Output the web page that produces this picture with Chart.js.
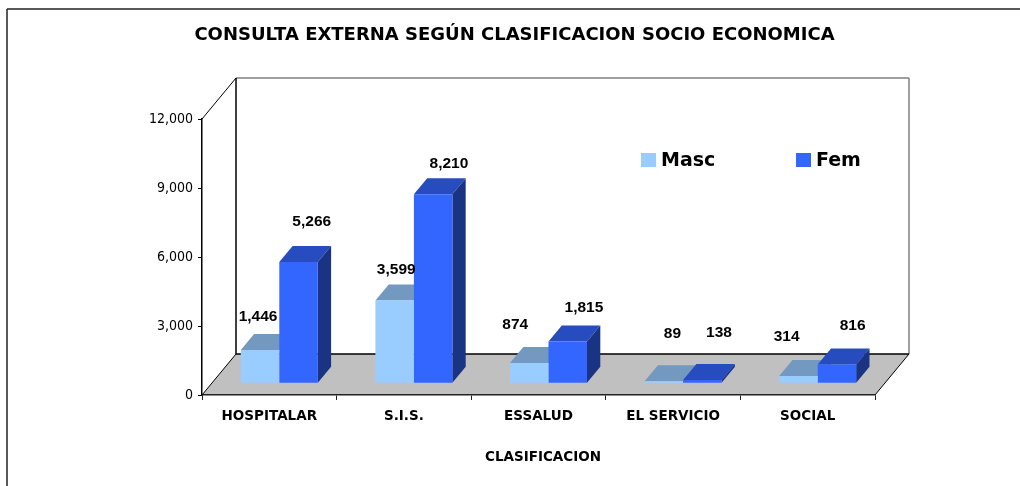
<!DOCTYPE html>
<html>
<head>
<meta charset="utf-8">
<title>Consulta externa</title>
<script src="https://cdn.jsdelivr.net/npm/chart.js@4"></script>
<style>
html, body { margin: 0; padding: 0; background: #fff; }
canvas { display: block; }
</style>
</head>
<body>
<canvas id="chart" width="1020" height="486"></canvas>
<script>
const categories = ['HOSPITALAR', 'S.I.S.', 'ESSALUD', 'EL SERVICIO', 'SOCIAL'];
const masc = [1446, 3599, 874, 89, 314];
const fem = [5266, 8210, 1815, 138, 816];
const seriesNames = ['Masc', 'Fem'];
const yTicks = [0, 3000, 6000, 9000, 12000];

const TEXT_FONT = '"DejaVu Sans", sans-serif';
const TICK_FONT = '"DejaVu Sans Condensed", "DejaVu Sans", sans-serif';
const LABEL_FONT = '"Liberation Sans", Arial, sans-serif';

// 3d look: wall depth, where the bars stand on the floor, bar depth
const wall = { dx: 34, dy: 41 };
const floorShift = { dx: 10, dy: 11.8 };
const barDepth = { dx: 13.3, dy: 16 };
const faces = [
    { top: '#7499C0', side: '#5C7FA6' },
    { top: '#264CBF', side: '#1A3383' }
];
// the value labels were placed by hand in the original
const labelNudge = [
    [[-2, -33.4], [1.6, -30.9], [-14, -38.6], [8.6, -47], [-11.8, -38.8]],
    [[13.2, -40.6], [15.8, -30.6], [16.2, -33.9], [16.6, -47.5], [15.7, -38.9]]
];
const legendSpots = [{ box: 641, text: 661 }, { box: 796, text: 816 }];

function poly(ctx, color, pts) {
    ctx.fillStyle = color;
    ctx.beginPath();
    pts.forEach((p, i) => i ? ctx.lineTo(p[0], p[1]) : ctx.moveTo(p[0], p[1]));
    ctx.closePath();
    ctx.fill();
}

function line(ctx, color, width, x1, y1, x2, y2) {
    ctx.strokeStyle = color;
    ctx.lineWidth = width;
    ctx.beginPath();
    ctx.moveTo(x1, y1);
    ctx.lineTo(x2, y2);
    ctx.stroke();
}

const scene3d = {
    id: 'scene3d',
    beforeDraw(chart) {
        const ctx = chart.ctx;
        const { left, right, top, bottom } = chart.chartArea;
        ctx.save();
        // outer frame, only top and left show
        line(ctx, '#222', 1.5, 7, 9, 1020, 9);
        line(ctx, '#222', 1.5, 7, 9, 7, 486);
        // floor
        poly(ctx, '#C0C0C0', [[left, bottom], [right, bottom], [right + wall.dx, bottom - wall.dy], [left + wall.dx, bottom - wall.dy]]);
        // walls
        line(ctx, '#808080', 1.5, left + wall.dx, top - wall.dy, right + wall.dx, top - wall.dy);
        line(ctx, '#808080', 1.5, right + wall.dx, top - wall.dy, right + wall.dx, bottom - wall.dy);
        line(ctx, '#000', 1.5, left + wall.dx, top - wall.dy, left + wall.dx, bottom - wall.dy);
        line(ctx, '#000', 1, left, top, left + wall.dx, top - wall.dy);
        line(ctx, '#000', 1, left, bottom, left + wall.dx, bottom - wall.dy);
        line(ctx, '#000', 1.5, left + wall.dx, bottom - wall.dy, right + wall.dx, bottom - wall.dy);
        line(ctx, '#000', 1, right, bottom, right + wall.dx, bottom - wall.dy);
        ctx.restore();
    },
    beforeDatasetsDraw(chart) {
        const ctx = chart.ctx;
        ctx.save();
        ctx.translate(floorShift.dx, -floorShift.dy);
        // top and side faces go first, Masc under Fem; the fronts come from the library
        chart.data.datasets.forEach((ds, d) => {
            chart.getDatasetMeta(d).data.forEach(bar => {
                const l = bar.x - bar.width / 2;
                const r = bar.x + bar.width / 2;
                const dx = barDepth.dx;
                const dy = barDepth.dy;
                poly(ctx, faces[d].top, [[l, bar.y], [r, bar.y], [r + dx, bar.y - dy], [l + dx, bar.y - dy]]);
                poly(ctx, faces[d].side, [[r, bar.y], [r, bar.base], [r + dx, bar.base - dy], [r + dx, bar.y - dy]]);
            });
        });
    },
    afterDatasetsDraw(chart) {
        const ctx = chart.ctx;
        ctx.restore();
        ctx.save();
        ctx.textAlign = 'center';
        ctx.textBaseline = 'middle';
        ctx.fillStyle = '#000';
        ctx.font = 'bold 15.5px ' + LABEL_FONT;
        chart.data.datasets.forEach((ds, d) => {
            chart.getDatasetMeta(d).data.forEach((bar, i) => {
                const n = labelNudge[d][i];
                ctx.fillText(ds.data[i].toLocaleString('en-US'), bar.x + floorShift.dx + n[0], bar.y - floorShift.dy + n[1]);
            });
        });
        // axis title sits a little right of the axis centre in the original
        ctx.font = 'bold 13.5px ' + TEXT_FONT;
        ctx.fillText('CLASIFICACION', 543, 457);
        // legend inside the plot
        chart.data.datasets.forEach((ds, d) => {
            ctx.fillStyle = ds.backgroundColor;
            ctx.fillRect(legendSpots[d].box, 153, 15, 14);
            ctx.fillStyle = '#000';
            ctx.textAlign = 'left';
            ctx.font = 'bold 19px ' + TEXT_FONT;
            ctx.fillText(ds.label, legendSpots[d].text, 161);
        });
        ctx.restore();
    }
};

new Chart(document.getElementById('chart').getContext('2d'), {
    type: 'bar',
    data: {
        labels: categories,
        datasets: [
            { label: seriesNames[0], data: masc, backgroundColor: '#99CCFF', clip: false },
            { label: seriesNames[1], data: fem, backgroundColor: '#3366FF', clip: false }
        ]
    },
    options: {
        responsive: false,
        animation: false,
        events: [],
        layout: { padding: { left: 9, right: 0, top: 0, bottom: 0 } },
        categoryPercentage: 0.572,
        barPercentage: 1,
        scales: {
            x: {
                border: { color: '#222', width: 1.5 },
                grid: { drawOnChartArea: false, tickLength: 5, color: '#222' },
                ticks: { color: '#000', maxRotation: 0, autoSkip: false, padding: 8, font: { family: TEXT_FONT, size: 13.5, weight: 'bold' } },
                afterFit(scale) { scale.height = 91; }
            },
            y: {
                min: 0,
                max: 12000,
                border: { color: '#000', width: 1.5 },
                grid: { drawOnChartArea: false, tickLength: 4, color: '#000' },
                afterBuildTicks(scale) { scale.ticks = yTicks.map(v => ({ value: v })); },
                ticks: {
                    color: '#000',
                    padding: 5,
                    font: { family: TICK_FONT, size: 14 },
                    callback: v => v.toLocaleString('en-US')
                },
                afterFit(scale) { scale.width = 193; }
            },
            // empty axis, only keeps the plot clear of the right margin
            spacer: {
                position: 'right',
                border: { display: false },
                grid: { display: false },
                ticks: { display: false },
                afterFit(scale) { scale.width = 145; }
            }
        },
        plugins: {
            legend: { display: false },
            tooltip: { enabled: false },
            title: {
                display: true,
                text: 'CONSULTA EXTERNA SEGÚN CLASIFICACION SOCIO ECONOMICA',
                color: '#000',
                font: { family: TEXT_FONT, size: 18, weight: 'bold', lineHeight: 1.2 },
                padding: { top: 25, bottom: 72.4 }
            }
        }
    },
    plugins: [scene3d]
});
</script>
</body>
</html>
